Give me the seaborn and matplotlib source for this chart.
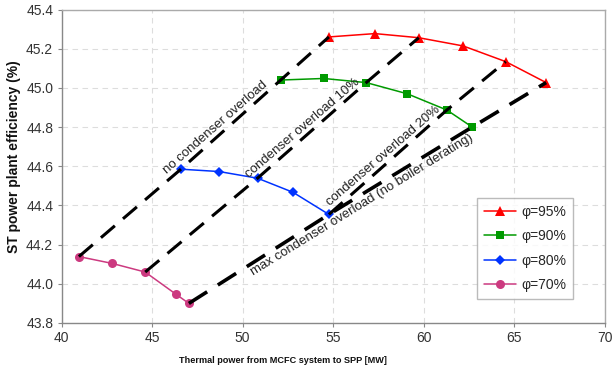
import numpy as np
import pandas as pd
import matplotlib
matplotlib.use("Agg")
import matplotlib.pyplot as plt
import seaborn as sns

# ---- data ----
x95 = [54.76, 57.30, 59.72, 62.17, 64.52, 66.75]
y95 = [45.260, 45.277, 45.256, 45.214, 45.134, 45.027]
x90 = [52.10, 54.47, 56.82, 59.08, 61.27, 62.67]
y90 = [45.040, 45.048, 45.027, 44.970, 44.887, 44.800]
x80 = [46.59, 48.70, 50.82, 52.78, 54.76]
y80 = [44.585, 44.573, 44.539, 44.467, 44.354]
x70 = [40.96, 42.80, 44.62, 46.30, 47.03]
y70 = [44.139, 44.104, 44.060, 43.948, 43.900]
labels = ["φ=95%", "φ=90%", "φ=80%", "φ=70%"]
colors = ["#FF0000", "#009A00", "#0033FF", "#CC3A80"]
markers = ["^", "s", "D", "o"]
msizes = [6.5, 6, 5, 6.5]
xticks = [40, 45, 50, 55, 60, 65, 70]
yticks = [43.8, 44.0, 44.2, 44.4, 44.6, 44.8, 45.0, 45.2, 45.4]
annot = ["no condenser overload", "condenser overload 10%",
         "condenser overload 20%", "max condenser overload (no boiler derating)"]

xs = [x95, x90, x80, x70]
ys = [y95, y90, y80, y70]
# dashed iso-lines: (series index, point index) sequences
iso = [
    [(3, 0), (2, 0), (1, 0), (0, 0)],
    [(3, 2), (2, 2), (1, 2), (0, 2)],
    [(2, 4), (1, 4), (0, 4)],
    [(3, 4), (2, 4), (1, 5), (0, 5)],
]

sns.set_style("white")
plt.rcParams["font.family"] = ["Liberation Sans", "DejaVu Sans"]

fig = plt.figure(figsize=(6.12, 3.69), dpi=100)
ax = fig.add_axes([61.5 / 612, 1 - 323 / 369, (605 - 61.5) / 612, (323 - 9.5) / 369])

for lab, xx, yy, c, m, ms in zip(labels, xs, ys, colors, markers, msizes):
    d = pd.DataFrame({"x": xx, "y": yy})
    sns.lineplot(data=d, x="x", y="y", color=c, marker=m, markersize=ms,
                 markeredgewidth=0, linewidth=1.1, sort=False, estimator=None,
                 ax=ax, label=lab, zorder=3)

ax.set_xlim(40, 70)
ax.set_ylim(43.8, 45.4)
ax.set_xticks(xticks)
ax.set_yticks(yticks)
ax.set_yticklabels([f"{v:.1f}" for v in yticks])
ax.tick_params(axis="both", labelsize=10, length=3, direction="out",
               left=True, bottom=True, pad=3, colors="#888888",
               labelcolor="#333333")
ax.grid(True, color="#DDDDDD", linestyle=(0, (5, 4)), linewidth=0.8)

for s in ["top", "right"]:
    ax.spines[s].set_color("#AAAAAA")
for s in ["left", "bottom"]:
    ax.spines[s].set_color("#888888")
for s in ax.spines.values():
    s.set_linewidth(1.0)

# dashed lines
for k, seq in enumerate(iso):
    lx = [xs[i][j] for i, j in seq]
    ly = [ys[i][j] for i, j in seq]
    ax.plot(lx, ly, color="black", linewidth=2.2 if k < 3 else 2.6,
            dashes=(6, 3.5), zorder=4, solid_capstyle="butt")

# annotation labels along lines
tpos = [(48.52, 44.797), (53.28, 44.795), (57.78, 44.652), (56.59, 44.402)]
fig.canvas.draw()
for k, (seq, txt, (tx, ty)) in enumerate(zip(iso, annot, tpos)):
    p0 = ax.transData.transform((xs[seq[0][0]][seq[0][1]], ys[seq[0][0]][seq[0][1]]))
    p1 = ax.transData.transform((xs[seq[-1][0]][seq[-1][1]], ys[seq[-1][0]][seq[-1][1]]))
    ang = np.degrees(np.arctan2(p1[1] - p0[1], p1[0] - p0[0]))
    ax.text(tx, ty, txt, rotation=ang, rotation_mode="anchor",
            ha="center", va="center", fontsize=9.5, color="#222222", zorder=5)

ax.set_xlabel("Thermal power from MCFC system to SPP [MW]", fontsize=6.6,
              fontweight="bold", color="#111111")
ax.set_ylabel("ST power plant efficiency (%)", fontsize=10,
              fontweight="bold", color="#111111")
ax.xaxis.set_label_coords((283 - 61.5) / 543.5, -(356 - 323) / 313.5)
ax.yaxis.set_label_coords(-(61.5 - 21) / 543.5, (323 - 157) / 313.5)

h, l = ax.get_legend_handles_labels()
leg = ax.legend(h, l, loc="lower left",
                bbox_to_anchor=((477 - 61.5) / 543.5, (323 - 299) / 313.5),
                borderaxespad=0,
                fontsize=10, frameon=True, fancybox=False, edgecolor="#AAAAAA",
                handlelength=2.3, labelspacing=0.75, borderpad=0.5,
                handletextpad=0.4)
leg.get_frame().set_linewidth(1.0)

fig.savefig("out.png", dpi=100)
